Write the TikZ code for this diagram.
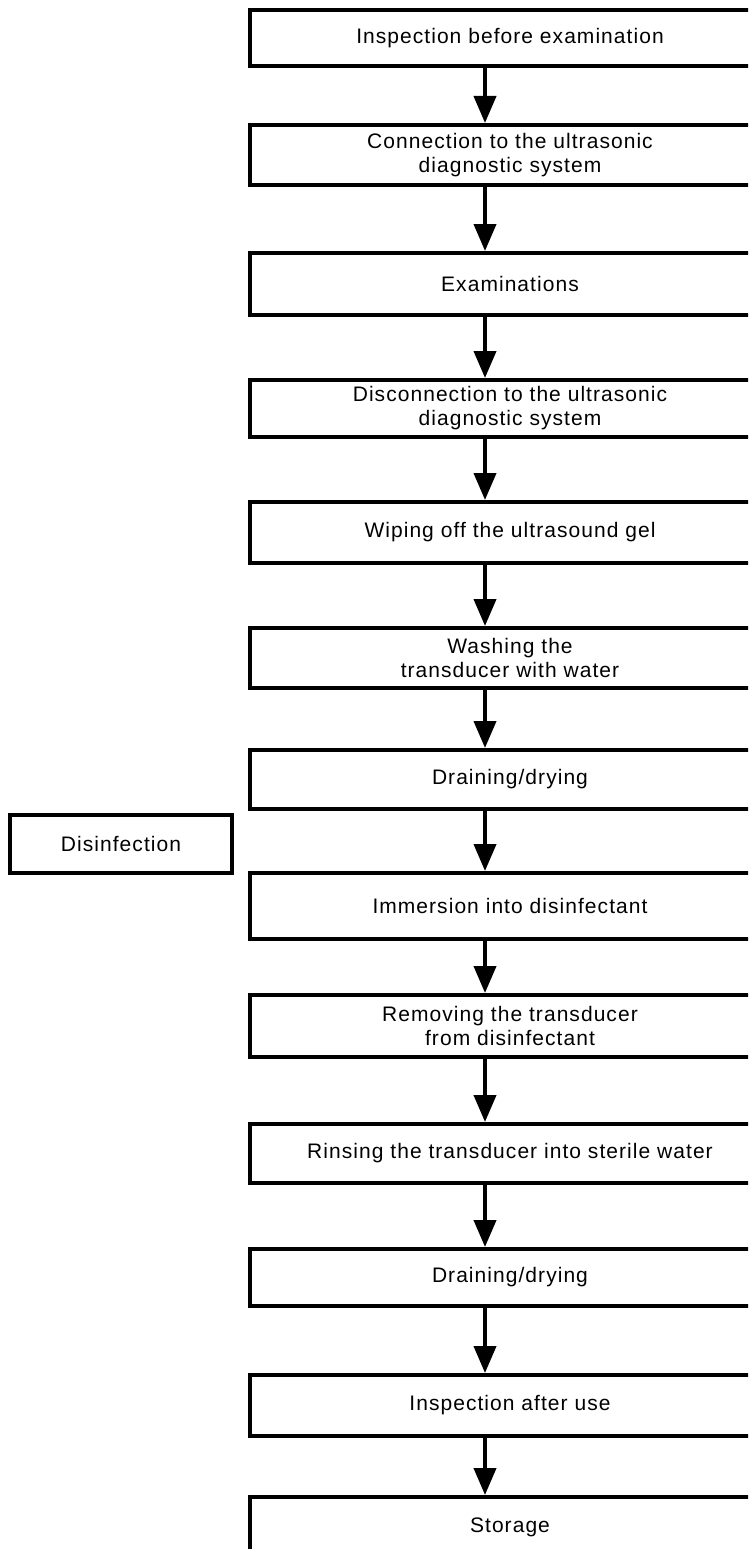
\documentclass[tikz,border=0pt]{standalone}
\usepackage{fontspec}
\setmainfont[LetterSpace=5]{Liberation Sans}
\usetikzlibrary{positioning, arrows.meta}

\begin{document}
\begin{tikzpicture}[
        x=1pt, y=1pt,
        font=\fontsize{21}{24}\selectfont,
        stepbox/.style={draw, line width=4pt, minimum width=520pt, minimum height=#1, inner sep=0pt, align=center},
        stepbox/.default=60pt,
        arr/.style={-{Triangle[length=27pt, width=22pt]}, line width=4pt},
    ]
    \useasboundingbox (0,0) rectangle (748,-1549);
    \clip (0,0) rectangle (748,-1549);

    % Before use
    \node[stepbox=56pt] (b1) at (510,-38) {Inspection before examination};
    \node[stepbox, below=55pt of b1] (b2) {Connection to the ultrasonic\\diagnostic system};
    \node[stepbox=62pt, below=64pt of b2] (b3) {Examinations};
    \node[stepbox=57pt, below=61pt of b3] (b4) {Disconnection to the ultrasonic\\diagnostic system};

    % Cleaning
    \node[stepbox=61pt, below=61pt of b4] (b5) {Wiping off the ultrasound gel};
    \node[stepbox, below=61pt of b5] (b6) {Washing the\\transducer with water};
    \node[stepbox=59pt, below=58pt of b6] (b7) {Draining/drying};

    % Disinfection
    \node[stepbox=66pt, below=60pt of b7] (b8) {Immersion into disinfectant};
    \node[stepbox=62pt, below=52pt of b8] (b9) {Removing the transducer\\from disinfectant};
    \node[stepbox=59pt, below=63pt of b9] (b10) {Rinsing the transducer into sterile water};
    \node[stepbox=57pt, below=62pt of b10] (b11) {Draining/drying};

    % After use
    \node[stepbox=61pt, below=65pt of b11] (b12) {Inspection after use};
    \node[stepbox, below=57pt of b12] (b13) {Storage};

    % Side label
    \node[stepbox=58pt, minimum width=222pt] (dis) at (121,-844) {Disinfection};

    % Arrows on one vertical axis
    \coordinate (axis) at (485,0);
    \foreach \a/\b in {b1/b2, b2/b3, b3/b4, b4/b5, b5/b6, b6/b7, b7/b8, b8/b9, b9/b10, b10/b11, b11/b12, b12/b13}
        \draw[arr] (\a.south -| axis) -- (\b.north -| axis);
\end{tikzpicture}
\end{document}
